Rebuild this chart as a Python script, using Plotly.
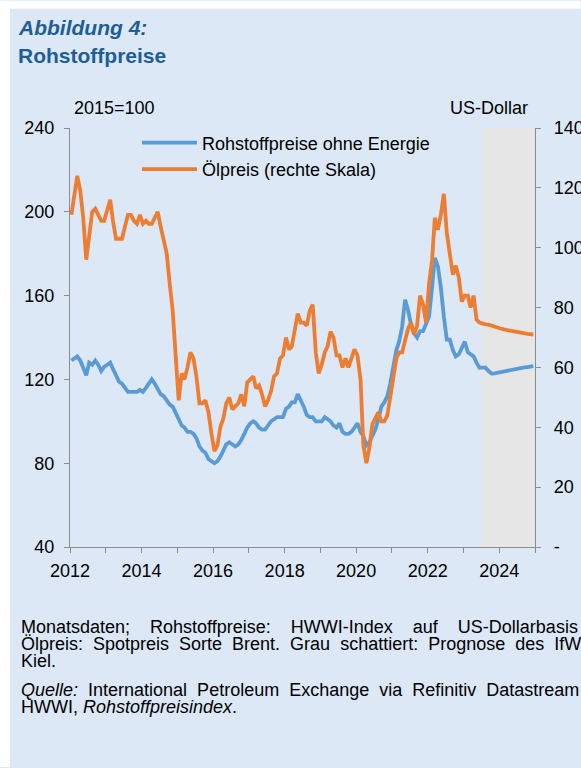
import pandas as pd
import plotly.graph_objects as go

# ---------------- data (monthly, Jan 2012 - Dec 2024) ----------------
rohstoff_ohne_energie = [
    # 2012
    129, 130, 131, 129, 126, 122, 128, 127, 129, 127, 124, 126,
    # 2013
    127, 128, 125, 122, 119, 118, 116, 114, 114, 114, 114, 115,
    # 2014
    114, 116, 118, 120, 118, 115, 113, 112, 110, 108, 107, 104,
    # 2015
    101, 98, 97, 95, 95, 94, 92, 88, 86, 85, 82, 81,
    # 2016
    80, 81, 83, 86, 89, 90, 89, 88, 89, 91, 94, 97,
    # 2017
    99, 100, 99, 97, 96, 96, 98, 100, 101, 102, 102, 102,
    # 2018
    106, 107, 109, 109, 113, 110, 107, 103, 102, 102, 100, 100,
    # 2019
    100, 102, 101, 100, 98, 97, 99, 95, 94, 94, 95, 97,
    # 2020
    99, 95, 93, 88.5, 90, 93, 96, 101, 107, 109, 112, 118,
    # 2021
    126, 134, 138, 145, 158, 153, 146, 142, 140, 143, 143, 146,
    # 2022
    150, 164, 178, 174, 164, 150, 139, 139, 134, 131, 132, 135,
    # 2023
    138, 133, 132, 131, 128, 125.5, 125.6, 125.6, 124, 122.8, 122.9, 123.2,
    # 2024
    123.5, 123.8, 124.1, 124.6, 124.9, 125.1, 125.4, 125.6, 125.7, 125.9, 126.1, 126.3,
]

oelpreis = [
    # 2012
    111, 119, 124, 119, 110, 96, 103, 112, 113, 111, 109, 109,
    # 2013
    113, 116, 109, 103, 103, 103, 107, 111, 111, 109, 108, 111,
    # 2014
    108, 109, 108, 108, 110, 112, 107, 102, 98, 88, 79, 64,
    # 2015
    49, 58, 56, 60, 65, 63, 57, 48, 48, 49, 45, 38,
    # 2016
    32, 34, 40, 43, 48, 50, 46, 47, 48, 51, 47, 55,
    # 2017
    56, 57, 53, 54, 51, 47, 49, 52, 57, 58, 63, 64,
    # 2018
    70, 66, 67, 73, 78, 75, 75, 74, 79, 81, 65, 58,
    # 2019
    61, 65, 67, 72, 70, 64, 64, 60, 63, 60, 63, 66,
    # 2020
    64, 56, 34, 28, 33, 41, 43, 45, 42, 42, 44, 50,
    # 2021
    55, 63, 65, 65, 69, 73, 75, 71, 74, 84, 81, 75,
    # 2022
    88, 96, 110, 106, 111, 118, 105, 98, 91, 94, 90, 82,
    # 2023
    84, 84, 80, 84, 76, 75, 74.6, 74.4, 74.3, 73.9, 73.6, 73.3,
    # 2024
    73.0, 72.7, 72.5, 72.2, 72.0, 71.8, 71.6, 71.4, 71.3, 71.2, 71.1, 71.0,
]

x_years = list(range(2012, 2026))
x_labels = [str(y) if y % 2 == 0 and y < 2025 else "" for y in x_years]
left_ticks = [40, 80, 120, 160, 200, 240]
right_ticks = [0, 20, 40, 60, 80, 100, 120, 140]
right_labels = ["-", "20", "40", "60", "80", "100", "120", "140"]
prognose_start = "2023-07-01"
prognose_end = "2025-01-01"

months = pd.date_range("2012-01-01", periods=len(oelpreis), freq="MS") + pd.Timedelta(days=14)

BG = "#dce8f6"
BLUE = "#5b9bd5"
ORANGE = "#ed7d31"
AXIS = "#8c8c8c"
TITLE = "#1f5e95"
FONT = "Liberation Sans, Arial, sans-serif"

fig = go.Figure()
fig.add_trace(go.Scatter(
    x=months, y=rohstoff_ohne_energie, mode="lines",
    name="Rohstoffpreise ohne Energie", legendgroup="a",
    line=dict(color=BLUE, width=3.8), yaxis="y",
))
fig.add_trace(go.Scatter(
    x=months, y=oelpreis, mode="lines",
    name="Ölpreis (rechte Skala)", legendgroup="b",
    line=dict(color=ORANGE, width=3.8), yaxis="y2",
))

PW, PH, L, T = 465.5, 420.0, 70.0, 127.5


def px(xp):
    return (xp - L) / PW


def py(yp):
    return (T + PH - yp) / PH


# forecast shading
fig.add_shape(type="rect", xref="x", yref="paper",
              x0=prognose_start, x1=prognose_end, y0=0, y1=1,
              fillcolor="#e6e6e6", line=dict(width=0), layer="below")

# white outer strips (top and left) of the original page
fig.add_shape(type="rect", xref="paper", yref="paper",
              x0=px(0), x1=px(10), y0=py(768), y1=py(0),
              fillcolor="white", line=dict(width=0), layer="below")
fig.add_shape(type="rect", xref="paper", yref="paper",
              x0=px(0), x1=px(581), y0=py(8), y1=py(0),
              fillcolor="white", line=dict(width=0), layer="below")


def note(text, xp, yp, size=18, anchor="left", color="black", bold=False, italic=False):
    fig.add_annotation(
        text=text, x=px(xp), y=py(yp), xref="paper", yref="paper",
        xanchor=anchor, yanchor="middle", showarrow=False, borderpad=0,
        font=dict(family=FONT, size=size, color=color,
                  weight="bold" if bold else "normal",
                  style="italic" if italic else "normal"),
    )


note("Abbildung 4:", 17, 27, size=21, color=TITLE, bold=True, italic=True)
note("Rohstoffpreise", 17, 55, size=21, color=TITLE, bold=True)
note("2015=100", 73, 107)
note("US-Dollar", 529, 107, anchor="right")

nb = "\u00a0"


def justify(words, gap):
    return (nb * gap).join(words)


FS = 18
note(justify(["Monatsdaten;", "Rohstoffpreise:", "HWWI-Index", "auf", "US-Dollarbasis"], 4),
     20, 628, size=FS)
note(justify(["Ölpreis:", "Spotpreis", "Sorte", "Brent.", "Grau", "schattiert:", "Prognose", "des", "IfW"], 2),
     20, 645, size=FS)
note("Kiel.", 20, 662, size=FS)
note(justify(["<i>Quelle:</i>", "International", "Petroleum", "Exchange", "via", "Refinitiv", "Datastream"], 2),
     20, 691, size=FS)
note("HWWI, <i>Rohstoffpreisindex</i>.", 20, 708, size=FS)

axis_common = dict(
    showgrid=False, zeroline=False, showline=True, linecolor=AXIS, linewidth=1.3,
    ticks="outside", ticklen=5, tickcolor=AXIS, tickwidth=1.3,
    tickfont=dict(size=18), automargin=False,
)

fig.update_layout(
    width=581, height=768, autosize=False,
    margin=dict(l=70, r=45.5, t=127.5, b=220.5, pad=0, autoexpand=False),
    paper_bgcolor=BG, plot_bgcolor="rgba(0,0,0,0)",
    font=dict(family=FONT, size=18, color="black"),
    showlegend=True,
    legend=dict(
        x=px(137), y=py(124), xanchor="left", yanchor="top",
        bgcolor="rgba(0,0,0,0)", font=dict(size=18),
        traceorder="grouped", tracegroupgap=0, itemwidth=55,
    ),
    xaxis=dict(
        type="date", range=["2012-01-01", "2025-01-01"],
        tickvals=[f"{y}-01-01" for y in x_years], ticktext=x_labels,
        ticklabelstandoff=2, **axis_common,
    ),
    yaxis=dict(
        range=[40, 240], tickvals=left_ticks,
        ticklabelstandoff=6, **axis_common,
    ),
    yaxis2=dict(
        range=[0, 140], tickvals=right_ticks, ticktext=right_labels,
        overlaying="y", side="right", anchor="x",
        ticklabelstandoff=9, **axis_common,
    ),
)

post = (
    "document.body.style.margin='0';"
    "document.body.style.padding='0';"
    "document.body.style.overflow='hidden';"
    "document.documentElement.style.overflow='hidden';"
)

fig.write_html("out.html", config={"responsive": False, "displayModeBar": False},
               post_script=post)
